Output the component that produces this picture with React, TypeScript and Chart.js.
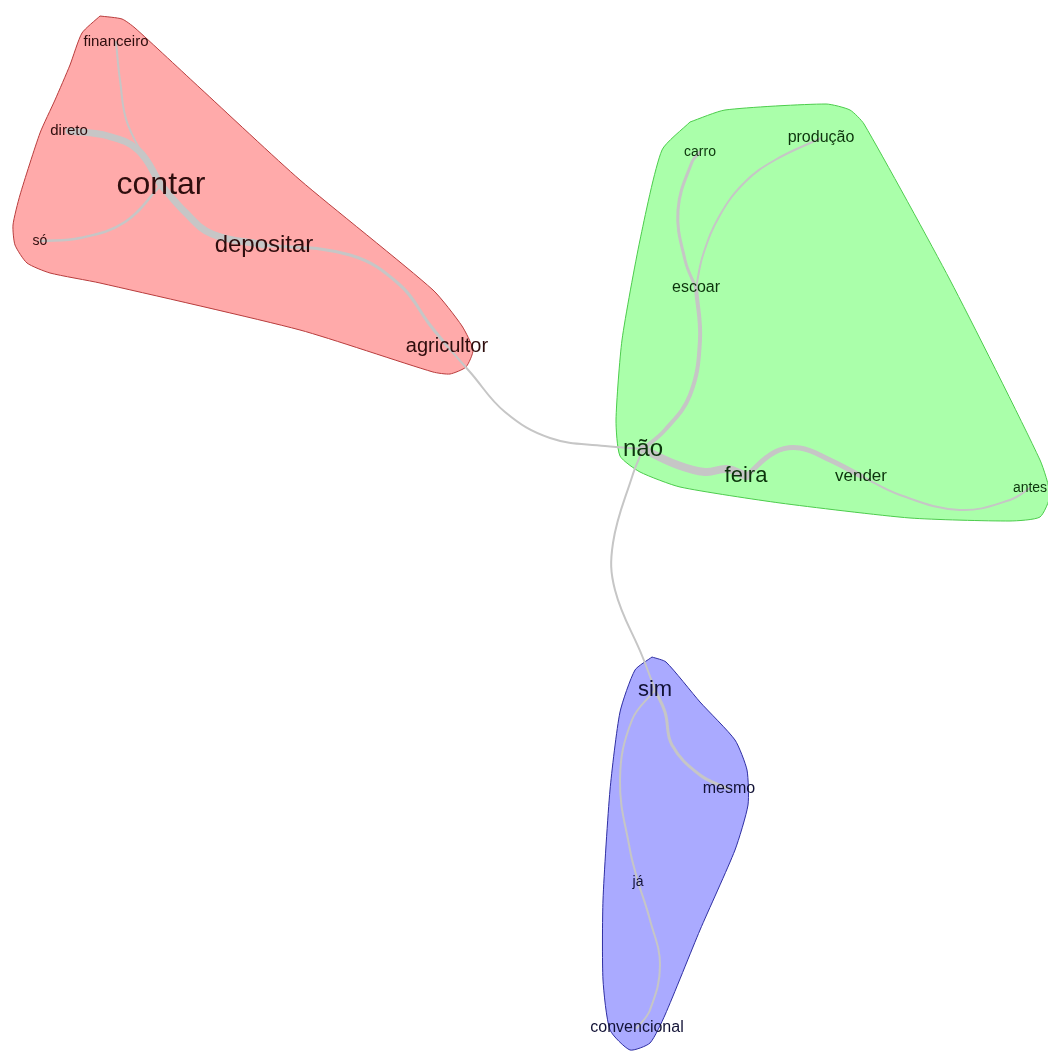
import React, { useEffect, useRef } from "react";
import { Chart, registerables } from "chart.js";

Chart.register(...registerables);

// ---- Data ----
const words = [
  "financeiro", "direto", "contar", "só", "depositar", "agricultor",
  "carro", "produção", "escoar", "não", "feira", "vender", "antes",
  "sim", "mesmo", "já", "convencional",
];
const wordX = [116, 69, 161, 40, 264, 447, 700, 821, 696, 643, 746, 861, 1030, 655, 729, 638, 637];
const wordY = [42, 131, 185, 241, 245, 346, 152, 138, 288, 449, 476, 476, 488, 690, 789, 882, 1028];
const wordSize = [15, 15, 32, 14, 24, 20, 14, 16, 16, 24, 22, 17, 14, 22, 16, 14, 16];
const wordCluster = [0, 0, 0, 0, 0, 0, 1, 1, 1, 1, 1, 1, 1, 2, 2, 2, 2];

const edgeFrom = ["direto", "contar", "só", "financeiro", "depositar", "agricultor", "não", "escoar", "escoar", "não", "feira", "vender", "não", "sim", "sim", "já"];
const edgeTo = ["contar", "depositar", "contar", "contar", "agricultor", "não", "escoar", "carro", "produção", "feira", "vender", "antes", "sim", "mesmo", "já", "convencional"];
const edgeWidth = [7, 7, 2.5, 2, 3, 2, 4, 3, 2, 8, 5, 2, 2, 3, 2, 2];
const edgeVia: number[][][] = [
  [[108, 136], [138, 150]],
  [[185, 212], [212, 234]],
  [[80, 238], [125, 222]],
  [[120, 80], [128, 125]],
  [[350, 255], [400, 285], [430, 325]],
  [[470, 372], [505, 412], [550, 438], [605, 446]],
  [[665, 430], [690, 395], [700, 340]],
  [[685, 260], [678, 210], [692, 162]],
  [[703, 255], [720, 215], [745, 182], [775, 160]],
  [[675, 464], [705, 472], [727, 469]],
  [[775, 452], [800, 448], [830, 460]],
  [[900, 495], [960, 510], [1010, 500]],
  [[632, 477], [613, 543], [615, 590], [643, 658]],
  [[665, 712], [672, 745], [700, 775]],
  [[632, 720], [620, 780], [630, 850]],
  [[650, 920], [660, 965], [650, 1010]],
];

const clusterNames = ["red", "green", "blue"];
const hullRed: number[][] = [
  [100, 16], [122, 19], [135, 28], [200, 88], [300, 180], [433, 290], [462, 326], [473, 350],
  [466, 367], [450, 374], [433, 372], [300, 330], [100, 283], [50, 273], [27, 263], [15, 245],
  [13, 225], [20, 195], [40, 133], [55, 100], [70, 65], [82, 33],
];
const hullGreen: number[][] = [
  [690, 122], [725, 110], [826, 104], [850, 110], [864, 124], [950, 280], [1040, 460], [1050, 495],
  [1040, 517], [1010, 521], [910, 518], [780, 503], [680, 487], [640, 472], [620, 456], [616, 420],
  [622, 340], [640, 240], [662, 150],
];
const hullBlue: number[][] = [
  [652, 657], [666, 662], [700, 702], [735, 740], [747, 770], [748, 805], [735, 850], [700, 930],
  [665, 1015], [650, 1043], [630, 1050], [610, 1030], [603, 980], [603, 900], [610, 790], [620, 712],
  [635, 670],
];
const hullFill = ["#FFAAAA", "#AAFFAA", "#AAAAFF"];
const hullBorder = ["#b83c3c", "#4ccc4c", "#2e2ea2"];
const textColor = ["#2e0d0d", "#0c340c", "#121236"];
const edgeColor = "#c6c6c6";

const W = 1048;
const H = 1052;

function pt(i: number) {
  return { x: wordX[i], y: wordY[i] };
}

export default function App() {
  const ref = useRef<HTMLCanvasElement | null>(null);

  useEffect(() => {
    if (!ref.current) return;
    const hulls = [hullRed, hullGreen, hullBlue];
    const hullSets = hulls.map((h, ci) => ({
      label: "hull-" + clusterNames[ci],
      data: [...h, h[0]].map((p) => ({ x: p[0], y: p[1] })),
      showLine: true,
      fill: "shape",
      backgroundColor: hullFill[ci],
      borderColor: hullBorder[ci],
      borderWidth: 1,
      tension: 0.2,
      pointRadius: 0,
      order: 3,
    }));
    const edgeSets = edgeFrom.map((f, k) => {
      const a = words.indexOf(f);
      const b = words.indexOf(edgeTo[k]);
      const pts = [pt(a), ...edgeVia[k].map((p) => ({ x: p[0], y: p[1] })), pt(b)];
      return {
        label: "edge-" + f + "-" + edgeTo[k],
        data: pts,
        showLine: true,
        fill: false,
        borderColor: edgeColor,
        borderWidth: edgeWidth[k],
        borderCapStyle: "round",
        tension: 0.4,
        pointRadius: 0,
        order: 2,
      };
    });
    const nodeSet = {
      label: "words",
      data: words.map((_, i) => pt(i)),
      showLine: false,
      pointRadius: 0,
      order: 1,
    };

    const labelPlugin = {
      id: "wordLabels",
      afterDatasetsDraw(chart: any) {
        const ctx = chart.ctx;
        const xs = chart.scales.x;
        const ys = chart.scales.y;
        ctx.save();
        ctx.textAlign = "center";
        ctx.textBaseline = "middle";
        words.forEach((w, i) => {
          ctx.font = `${wordSize[i]}px "Liberation Sans", Arial, sans-serif`;
          ctx.fillStyle = textColor[wordCluster[i]];
          ctx.fillText(w, xs.getPixelForValue(wordX[i]), ys.getPixelForValue(wordY[i]));
        });
        ctx.restore();
      },
    };

    const chart = new Chart(ref.current, {
      type: "scatter",
      data: { datasets: [...hullSets, ...edgeSets, nodeSet] as any },
      options: {
        animation: false,
        responsive: false,
        maintainAspectRatio: false,
        devicePixelRatio: 1,
        layout: { padding: 0 },
        plugins: { legend: { display: false }, tooltip: { enabled: false } },
        events: [],
        scales: {
          x: { type: "linear", min: 0, max: W, display: false },
          y: { type: "linear", min: 0, max: H, reverse: true, display: false },
        },
      } as any,
      plugins: [labelPlugin],
    });
    return () => chart.destroy();
  }, []);

  return (
    <div style={{ position: "fixed", left: 0, top: 0, width: W, height: H, background: "#fff" }}>
      <canvas ref={ref} width={W} height={H} style={{ width: W, height: H, display: "block" }} />
    </div>
  );
}
